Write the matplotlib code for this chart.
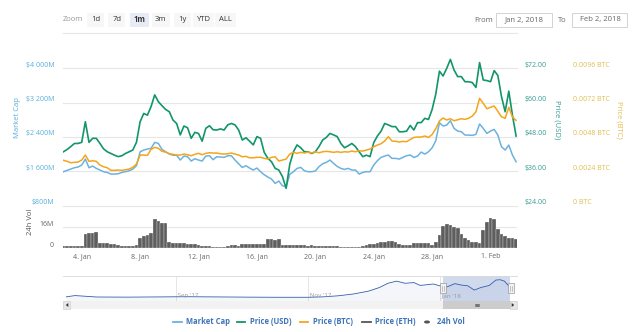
import numpy as np
import pandas as pd
import matplotlib
matplotlib.use("Agg")
import matplotlib.pyplot as plt
import matplotlib.transforms as mtrans
import matplotlib.dates as mdates
from matplotlib.patches import Rectangle, Circle, Polygon
from matplotlib.lines import Line2D

# ---------------------------------------------------------------- data
# 6-hourly samples, Jan 2 18:00 -> Feb 2 18:00 (2018)
start_time = "2018-01-02 18:00"

market_cap_musd = [
    1588, 1619, 1650, 1681, 1697, 1743, 1883, 1681, 1720, 1665, 1627, 1588, 1572, 1533, 1533, 1540,
    1572, 1588, 1611, 1650, 1728, 2053, 2093, 2117, 2133, 2273, 2247, 2107, 2053, 2000, 1973, 1973,
    1860,
    1953, 1938, 1837, 1891, 1860, 1837, 1953, 1961, 1868, 1938, 1930, 1922, 1961, 1961, 1860, 1773,
    1687, 1727, 1673, 1627, 1673, 1588, 1518, 1463, 1417, 1315, 1370, 1260, 1237, 1527, 1588,
    1665, 1689, 1611, 1588, 1588, 1603, 1705, 1773, 1805, 1860, 1782, 1712, 1665, 1642, 1665, 1627,
    1627, 1533, 1572, 1588, 1588, 1743, 1845, 1922, 1953, 1977, 1899, 1899, 1883, 1922, 1961, 1977,
    1921, 1953, 2046, 1999, 2053, 2147, 2311, 2731, 2653, 2676, 2777, 2599, 2536, 2521, 2443, 2443,
    2435, 2459, 2700, 2599, 2482, 2536, 2575, 2443, 2171, 2093, 2209, 1976, 1820,
]

price_usd = [
    42.8, 43.6, 44.6, 45.7, 45.7, 46.1, 53.3, 46.1, 47.5, 47.5, 45.7, 43.8, 42.8, 42.2, 41.6, 41.1,
    41.4, 42.2, 42.8, 43.4, 46.1, 53.3, 56.2, 55.6, 58.6, 62.7, 60.3, 58.9, 57.6, 56.8, 53.9, 52.7,
    48.7,
    51.8, 51.2, 47.5, 49.6, 49.2, 46.5, 51.0, 51.9, 50.5, 50.4, 50.8, 50.4, 52.2, 52.7, 52.2, 50.4,
    46.9, 47.7, 46.5, 45.2, 48.1, 47.5, 42.6, 40.5, 39.3, 37.0, 36.4, 34.1, 30.0, 38.4, 42.8,
    45.2, 44.2, 42.8, 42.8, 42.2, 42.8, 44.6, 46.9, 47.8, 49.2, 48.7, 48.1, 45.7, 44.2, 44.9, 45.7,
    44.6, 42.8, 41.1, 41.6, 41.1, 46.0, 48.3, 50.0, 52.7, 52.2, 51.6, 51.6, 49.8, 49.8, 50.0, 52.0,
    50.4, 53.0, 53.0, 54.5, 54.1, 57.6, 63.0, 71.0, 69.3, 72.0, 75.1, 71.4, 69.1, 69.1, 67.3, 67.3,
    67.0, 65.3, 74.0, 67.9, 67.7, 67.3, 71.2, 69.5, 62.1, 56.8, 64.0, 55.6, 48.3,
]

price_btc = [
    .00316, .00309, .00299, .00302, .00304, .00318, .00353, .00309, .00313, .00309, .00283, .00271,
    .00264, .00246, .00246, .00248, .00246, .00250, .00255, .00267, .00290, .00353, .00353, .00351,
    .00393, .00407, .00400, .00379, .00374, .00362, .00358, .00353, .00353,
    .00360, .00355, .00348, .00358, .00365, .00355, .00365, .00369, .00367, .00367, .00362, .00360,
    .00362, .00367, .00360, .00353, .00341, .00344, .00334, .00334, .00337, .00337, .00330, .00325,
    .00337, .00341, .00311, .00318, .00325, .00360, .00372,
    .00365, .00372, .00367, .00374, .00367, .00376, .00369, .00376, .00379, .00376, .00372, .00376,
    .00372, .00376, .00374, .00381, .00376, .00383, .00381, .00388, .00395, .00411, .00423, .00432,
    .00451, .00481, .00451, .00449, .00444, .00449, .00446, .00462,
    .00476, .00479, .00479, .00486, .00476, .00497, .00537, .00591, .00612, .00598, .00607, .00593,
    .00600, .00607, .00603, .00610, .00626, .00656, .00750, .00715, .00677, .00687, .00696, .00659,
    .00621, .00610, .00687, .00619, .00596,
]

volume_musd = [
    1.8, 2.0, 1.8, 2.0, 1.5, 1.5, 11.0, 11.5, 11.8, 12.5, 4.3, 4.0, 3.8, 3.5, 3.0, 2.5,
    1.7, 1.5, 1.6, 2.0, 2.2, 7.5, 9.0, 10.0, 11.5, 22.5, 21.0, 19.5, 19.0, 4.5, 4.3, 4.0,
    3.8, 3.8, 3.3, 3.2, 3.0, 2.5, 2.0, 1.8, 1.5, 1.2, 1.0, 1.0, 1.2, 1.8, 2.2, 2.3,
    2.0, 3.0, 3.2, 3.2, 3.0, 3.3, 3.2, 3.0, 6.8, 6.8, 6.5, 7.0, 2.5, 2.5, 2.2, 2.3,
    2.5, 2.3, 2.5, 2.0, 2.2, 1.8, 1.5, 1.5, 1.8, 1.6, 1.8, 1.5, 1.3, 1.2, 0.8, 0.7,
    0.8, 0.9, 1.5, 2.5, 3.0, 3.5, 3.8, 4.5, 5.0, 5.5, 5.8, 4.5, 3.0, 2.5, 2.2, 2.5,
    3.8, 4.2, 4.3, 4.0, 3.8, 2.5, 5.0, 10.0, 16.8, 18.8, 17.5, 16.5, 15.5, 11.0, 8.0, 6.0,
    5.0, 4.5, 4.2, 14.0, 20.0, 23.3, 22.0, 15.0, 11.0, 9.0, 7.5, 7.5, 7.3,
]

# long-range market cap shown in the navigator
nav_dates = [
    "2017-07-12", "2017-07-16", "2017-07-26", "2017-08-09", "2017-08-23", "2017-09-06",
    "2017-09-20", "2017-10-04", "2017-10-18", "2017-11-01", "2017-11-08", "2017-11-15",
    "2017-11-22", "2017-11-29", "2017-12-04", "2017-12-08", "2017-12-12", "2017-12-16",
    "2017-12-20", "2017-12-23", "2017-12-26", "2017-12-29", "2018-01-01", "2018-01-04",
    "2018-01-08", "2018-01-11", "2018-01-14", "2018-01-17", "2018-01-20", "2018-01-24",
    "2018-01-27", "2018-01-29", "2018-01-31", "2018-02-02",
]
nav_market_cap = [
    300, 480, 280, 260, 290, 320, 290, 260, 240, 240, 300, 450,
    700, 1100, 1600, 2200, 2500, 2200, 2300, 1900, 2000, 2100, 1850, 1650,
    2150, 1950, 1850, 1250, 1600, 1900, 2650, 2700, 2500, 1820,
]

mc_ticks = [800, 1600, 2400, 3200, 4000]
mc_tick_labels = ["$800M", "$1 600M", "$2 400M", "$3 200M", "$4 000M"]
usd_ticks = [24, 36, 48, 60, 72]
usd_tick_labels = ["$24.00", "$36.00", "$48.00", "$60.00", "$72.00"]
btc_ticks = [0, 0.0024, 0.0048, 0.0072, 0.0096]
btc_tick_labels = ["0 BTC", "0.0024 BTC", "0.0048 BTC", "0.0072 BTC", "0.0096 BTC"]
vol_ticks = [0, 16]
vol_tick_labels = ["0", "16M"]
x_tick_dates = ["2018-01-04", "2018-01-08", "2018-01-12", "2018-01-16",
                "2018-01-20", "2018-01-24", "2018-01-28", "2018-02-01"]
x_tick_labels = ["4. Jan", "8. Jan", "12. Jan", "16. Jan",
                 "20. Jan", "24. Jan", "28. Jan", "1. Feb"]
nav_tick_dates = ["2017-09-01", "2017-11-01", "2018-01-01"]
nav_tick_labels = ["Sep '17", "Nov '17", "Jan '18"]
zoom_buttons = ["1d", "7d", "1m", "3m", "1y", "YTD", "ALL"]
selected_button = "1m"
legend_items = ["Market Cap", "Price (USD)", "Price (BTC)", "Price (ETH)", "24h Vol"]

# ---------------------------------------------------------------- style
C_MC = "#6cb2de"
C_USD = "#12956b"
C_BTC = "#f4a51c"
C_ETH = "#555555"
C_VOL = "#5e5e5e"
C_GRID = "#e6e6e6"
C_MC_TXT = "#5aaedb"
C_USD_TXT = "#359d92"
C_BTC_TXT = "#dfbf4f"
C_LEGEND = "#3f74b8"

plt.rcParams["font.family"] = ["Open Sans", "DejaVu Sans"]

W, H = 640, 332
fig = plt.figure(figsize=(W / 100, H / 100), dpi=100)
fig.patch.set_facecolor("white")


def px_axes(x0, y0, x1, y1):
    return fig.add_axes([x0 / W, 1 - y1 / H, (x1 - x0) / W, (y1 - y0) / H])


def ftext(x, y, s, **kw):
    kw.setdefault("va", "center")
    return fig.text(x / W, 1 - y / H, s, **kw)


def fline(x0, y0, x1, y1, **kw):
    fig.add_artist(Line2D([x0 / W, x1 / W], [1 - y0 / H, 1 - y1 / H],
                          transform=fig.transFigure, **kw))


def frect(x, y, w, h, **kw):
    fig.add_artist(Rectangle((x / W, 1 - (y + h) / H), w / W, h / H,
                             transform=fig.transFigure, **kw))


def bare(ax):
    ax.set_facecolor("none")
    for s in ax.spines.values():
        s.set_visible(False)
    ax.set_xticks([])
    ax.set_yticks([])


times = pd.date_range(start_time, periods=len(price_usd), freq="6h")
xmin = pd.Timestamp("2018-01-02 17:45")
xmax = pd.Timestamp("2018-02-02 19:00")

PL, PR = 63.3, 516.7
MAIN_T, MAIN_B = 50, 205.5
VOL_B = 248.3

# three stacked price panes sharing the same box
ax_mc = px_axes(PL, MAIN_T, PR, MAIN_B)
ax_usd = px_axes(PL, MAIN_T, PR, MAIN_B)
ax_btc = px_axes(PL, MAIN_T, PR, MAIN_B)
span = 78.4 - 24
ax_usd.set_ylim(24, 78.4)
ax_mc.set_ylim(800, 800 + span * 800 / 12)
ax_btc.set_ylim(0, span * 0.0024 / 12)
for z, a in enumerate([ax_mc, ax_usd, ax_btc]):
    bare(a)
    a.set_zorder(2 + z)
    a.set_xlim(xmin, xmax)

for v in mc_ticks:
    ax_mc.axhline(v, color=C_GRID, lw=0.8, zorder=0, clip_on=False)

ax_mc.plot(times, market_cap_musd, color=C_MC, lw=1.1, solid_joinstyle="round")
ax_usd.plot(times, price_usd, color=C_USD, lw=1.2, solid_joinstyle="round")
ax_btc.plot(times, price_btc, color=C_BTC, lw=1.1, solid_joinstyle="round")

# volume pane
ax_vol = px_axes(PL, MAIN_B, PR, VOL_B)
bare(ax_vol)
ax_vol.set_xlim(xmin, xmax)
ax_vol.set_ylim(0, 32.6)
ax_vol.axhline(16, color=C_GRID, lw=0.8, zorder=0)
ax_vol.bar(times, volume_musd, width=0.25, color=C_VOL, edgecolor="white",
           linewidth=0.2, zorder=2)

# axis labels drawn as text, set slightly above their grid lines
up = 2.2  # points


def ylabels(ax, ticks, labels, xpx, color, ha):
    tr = mtrans.blended_transform_factory(fig.transFigure, ax.transData)
    tr = mtrans.offset_copy(tr, fig=fig, y=up, units="points")
    for t, s in zip(ticks, labels):
        ax.text(xpx / W, t, s, transform=tr, ha=ha, va="center", fontsize=5,
                color=color, clip_on=False)


ylabels(ax_mc, mc_ticks, mc_tick_labels, 54.5, C_MC_TXT, "right")
ylabels(ax_usd, usd_ticks, usd_tick_labels, 525, C_USD_TXT, "left")
ylabels(ax_btc, btc_ticks, btc_tick_labels, 573, C_BTC_TXT, "left")
ylabels(ax_vol, vol_ticks, vol_tick_labels, 53.5, "#666666", "right")

ftext(17.5, 118, "Market Cap", rotation=90, ha="center", fontsize=5.5, color=C_MC_TXT)
ftext(557.5, 120, "Price (USD)", rotation=270, ha="center", fontsize=5.5, color=C_USD_TXT)
ftext(619.5, 120, "Price (BTC)", rotation=270, ha="center", fontsize=5.5, color=C_BTC_TXT)
ftext(30.5, 222, "24h Vol", rotation=90, ha="center", fontsize=5.5, color="#555555")

trx = mtrans.blended_transform_factory(ax_vol.transData, fig.transFigure)
for d, s in zip(x_tick_dates, x_tick_labels):
    ax_vol.text(pd.Timestamp(d), 1 - 256.7 / H, s, transform=trx, ha="center",
                va="center", fontsize=5, color="#666666", clip_on=False)

# ---------------------------------------------------------------- header
ftext(63, 19.5, "Zoom", ha="left", fontsize=5.5, color="#999999")
btn_x = [95.5, 116.7, 139, 160.8, 182.5, 203.5, 225]
btn_w = [17, 17, 19, 18, 17, 21, 21]
for s, cx, bw in zip(zoom_buttons, btn_x, btn_w):
    sel = s == selected_button
    frect(cx - bw / 2, 12.5, bw, 14.5, facecolor="#e6ebf5" if sel else "#f7f7f7",
          edgecolor="none")
    ftext(cx, 19.5, s, ha="center", fontsize=5.5, color="#333333",
          fontweight="bold" if sel else "normal")
fline(63, 33, 517, 33, color=C_GRID, lw=0.8)

ftext(474, 20, "From", ha="left", fontsize=5.5, color="#666666")
frect(496, 12.7, 56, 14, facecolor="white", edgecolor="#cccccc", lw=0.6)
ftext(524, 20, "Jan 2, 2018", ha="center", fontsize=5.5, color="#666666")
ftext(558, 20, "To", ha="left", fontsize=5.5, color="#666666")
frect(572, 12.7, 55, 14, facecolor="white", edgecolor="#cccccc", lw=0.6)
ftext(600, 20, "Feb 2, 2018", ha="center", fontsize=5.5, color="#666666")

# ---------------------------------------------------------------- navigator
NAV_T, NAV_B, SCR_B = 276, 301, 309
NAV_L, NAV_R = 62, 510.5
fline(PL, NAV_T, PR, NAV_T, color="#d8d8d8", lw=0.6)
ax_nav = px_axes(NAV_L, NAV_T, NAV_R, NAV_B)
bare(ax_nav)
nav_times = pd.to_datetime(nav_dates)
nav_xmin = pd.Timestamp("2017-07-10")
ax_nav.set_xlim(nav_xmin, xmax)
ax_nav.set_ylim(-280, 3220)
ax_nav.fill_between(nav_times, nav_market_cap, -280, color="#335cad", alpha=0.05, lw=0,
                    zorder=2)
ax_nav.plot(nav_times, nav_market_cap, color="#335cad", lw=0.6, zorder=3)
for d, s in zip(nav_tick_dates, nav_tick_labels):
    ax_nav.axvline(pd.Timestamp(d), color=C_GRID, lw=0.7, zorder=1)
    ax_nav.text(pd.Timestamp(d), 0.22, " " + s, transform=ax_nav.get_xaxis_transform(),
                ha="left", va="center", fontsize=4.5, color="#999999")
ax_nav.axvspan(times[0], xmax, color="#6685c2", alpha=0.3, lw=0, zorder=2)


def nav_x_px(t):
    a, b = mdates.date2num(nav_xmin), mdates.date2num(xmax)
    return NAV_L + (mdates.date2num(pd.Timestamp(t)) - a) / (b - a) * (NAV_R - NAV_L)


sel_l = nav_x_px(times[0])
sel_r = nav_x_px(xmax)
for hx in (sel_l, sel_r):
    frect(hx - 3, 283, 6, 10, facecolor="#f2f2f2", edgecolor="#999999", lw=0.5)
    fline(hx - 1, 285.5, hx - 1, 290.5, color="#999999", lw=0.4)
    fline(hx + 1, 285.5, hx + 1, 290.5, color="#999999", lw=0.4)

# scrollbar
frect(PL, NAV_B, PR - PL, SCR_B - NAV_B, facecolor="#f2f2f2", edgecolor="none")
frect(sel_l, NAV_B, sel_r - sel_l, SCR_B - NAV_B, facecolor="#cccccc", edgecolor="none")
for k in range(3):
    fline((sel_l + sel_r) / 2 - 2, NAV_B + 3 + k, (sel_l + sel_r) / 2 + 2, NAV_B + 3 + k,
          color="#333333", lw=0.4)
for bx, pts in [(PL, [(2.5, 0), (5, -2), (5, 2)]), (PR - 7, [(4.5, 0), (2, -2), (2, 2)])]:
    frect(bx, NAV_B, 7, SCR_B - NAV_B, facecolor="#e6e6e6", edgecolor="#cccccc", lw=0.4)
    cy = (NAV_B + SCR_B) / 2
    poly = [((bx + px) / W, 1 - (cy + py) / H) for px, py in pts]
    fig.add_artist(Polygon(poly, closed=True, transform=fig.transFigure,
                           facecolor="#333333", edgecolor="none"))

# ---------------------------------------------------------------- legend
LY = 322
leg_marks = [(173, 182, C_MC), (237, 245, C_USD), (300, 308, C_BTC), (362, 371, C_ETH)]
leg_text_x = [186, 250, 313, 375, 437]
for (x0, x1, c) in leg_marks:
    fline(x0, LY, x1, LY, color=c, lw=1.3)
fig.add_artist(Circle((427 / W, 1 - LY / H), 3 / W, transform=fig.transFigure,
                      facecolor="#555555", edgecolor="none"))
for x, s in zip(leg_text_x, legend_items):
    ftext(x, LY, s, ha="left", fontsize=5.5, color=C_LEGEND, fontweight="bold")

fig.savefig("out.png", dpi=100, facecolor="white")
